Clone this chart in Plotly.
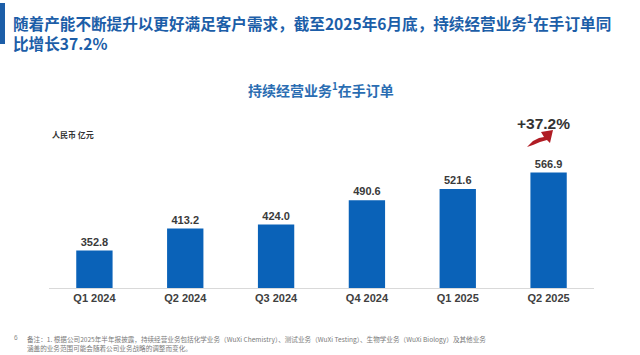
import plotly.graph_objects as go

categories = ["Q1 2024", "Q2 2024", "Q3 2024", "Q4 2024", "Q1 2025", "Q2 2025"]
backlog = [352.8, 413.2, 424.0, 490.6, 521.6, 566.9]
value_labels = ["352.8", "413.2", "424.0", "490.6", "521.6", "566.9"]
growth_label = "+37.2%"

W, H = 640, 355
ML, MR, MT, MB = 49, 46, 110, 67
PW, PH = W - ML - MR, H - MT - MB

def px(x):
    return (x - ML) / PW

def py(y):
    return (H - MB - y) / PH

CJK = "Noto Sans CJK SC, Liberation Sans, sans-serif"
LAT = "Liberation Sans, Arial, Noto Sans CJK SC, sans-serif"

fig = go.Figure()
fig.add_trace(go.Bar(
    x=categories, y=backlog,
    marker=dict(color="#0a62b8", line=dict(width=0)),
    text=value_labels, textposition="outside",
    textfont=dict(family=LAT, size=11, color="#3a3a3a", weight="bold"),
    cliponaxis=False, width=0.4, hoverinfo="skip",
))

fig.update_layout(
    width=W, height=H,
    margin=dict(l=ML, r=MR, t=MT, b=MB, pad=0),
    paper_bgcolor="white", plot_bgcolor="white",
    showlegend=False,
    xaxis=dict(showline=True, linecolor="#d9d9d9", linewidth=1, ticks="",
               showgrid=False, zeroline=False,
               tickfont=dict(family=LAT, size=11, color="#404040", weight="bold")),
    yaxis=dict(visible=False, range=[250, 738.6], showgrid=False, zeroline=False),
)

ann = []
ann.append(dict(
    text="随着产能不断提升以更好满足客户需求，截至2025年6月底，持续经营业务<sup>1</sup>在手订单同<br>比增长37.2%",
    x=px(11), y=py(8), xanchor="left", yanchor="top", align="left",
    font=dict(family=CJK, size=15.6, color="#1c5ea8", weight="bold"),
    showarrow=False, xref="paper", yref="paper",
))
ann.append(dict(
    text="持续经营业务<sup>1</sup>在手订单",
    x=px(321), y=py(89.5), xanchor="center", yanchor="middle",
    font=dict(family=CJK, size=14, color="#2a6db2", weight="bold"),
    showarrow=False, xref="paper", yref="paper",
))
ann.append(dict(
    text="人民币 亿元",
    x=px(50), y=py(134), xanchor="left", yanchor="middle",
    font=dict(family=CJK, size=8, color="#333333", weight="bold"),
    showarrow=False, xref="paper", yref="paper",
))
ann.append(dict(
    text=growth_label,
    x=px(543), y=py(123), xanchor="center", yanchor="middle",
    font=dict(family=LAT, size=15.5, color="#333333", weight="bold"),
    showarrow=False, xref="paper", yref="paper",
))
ann.append(dict(
    text="6",
    x=px(12), y=py(337), xanchor="left", yanchor="middle",
    font=dict(family=LAT, size=6.5, color="#8a8a8a"),
    showarrow=False, xref="paper", yref="paper",
))
ann.append(dict(
    text="备注：1. 根据公司2025年半年报披露，持续经营业务包括化学业务（WuXi Chemistry）、测试业务（WuXi Testing）、生物学业务（WuXi Biology）及其他业务<br>涵盖的业务范围可能会随着公司业务战略的调整而变化。",
    x=px(25), y=py(331.5), xanchor="left", yanchor="top", align="left",
    font=dict(family=CJK, size=6.6, color="#7a7a7a"),
    showarrow=False, xref="paper", yref="paper",
))
fig.update_layout(annotations=ann)

# left accent bar
fig.add_shape(type="rect", xref="paper", yref="paper",
              x0=px(0), x1=px(5), y0=py(44), y1=py(3),
              fillcolor="#1c5ea8", line=dict(width=0))

# curved red growth arrow (decoration)
pts = [(527, 147), (533, 141), (539, 138), (544, 137), (541, 132), (553, 130),
       (550, 143), (547, 140), (540, 142), (533, 145)]
path = "M " + " L ".join(f"{px(a):.5f},{py(b):.5f}" for a, b in pts) + " Z"
fig.add_shape(type="path", xref="paper", yref="paper", path=path,
              fillcolor="#b01c24", line=dict(width=0))

fig.write_html("out.html", config={"displayModeBar": False},
               post_script="document.body.style.margin='0';")
